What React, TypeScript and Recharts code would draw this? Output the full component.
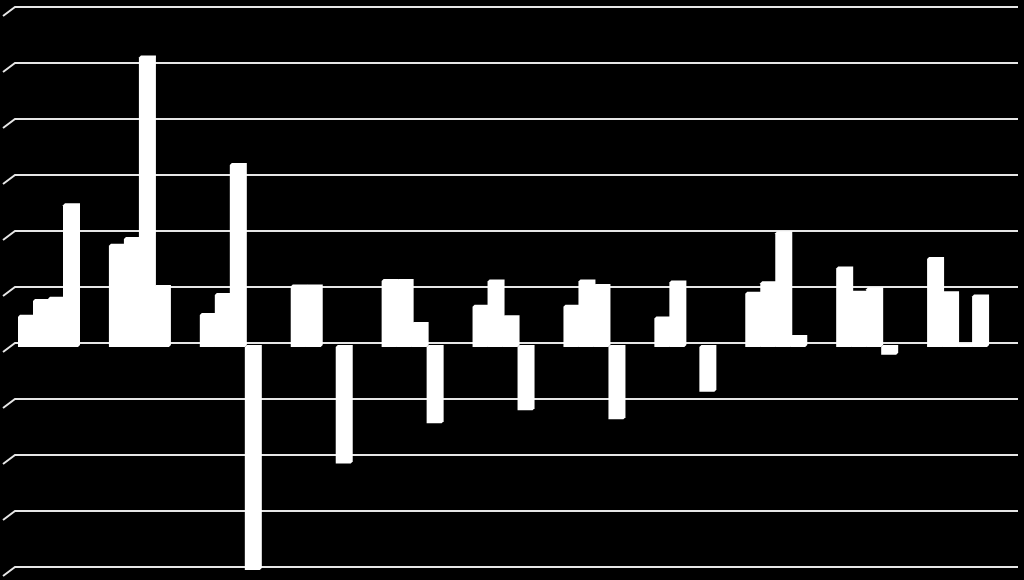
import { Bar, BarChart, CartesianGrid, XAxis, YAxis } from "recharts"

const categories = ["1", "2", "3", "4", "5", "6", "7", "8", "9", "10", "11"]
const series1 = [0.54, 1.81, 0.57, 1.08, 1.18, 0.72, 0.72, 0.51, 0.95, 1.4, 1.57]
const series2 = [0.82, 1.93, 0.93, 1.08, 1.18, 1.17, 1.17, 1.15, 1.14, 0.97, 0.96]
const series3 = [0.86, 5.17, 3.25, 0, 0.41, 0.53, 1.09, 0, 2.03, 1.03, 0.03]
const series4 = [2.53, 1.07, -3.98, -2.08, -1.36, -1.13, -1.29, -0.8, 0.18, -0.14, 0.9]
const yTicks = [-4, -3, -2, -1, 0, 1, 2, 3, 4, 5, 6]

const data = categories.map((c, i) => ({
  name: c,
  s1: series1[i],
  s2: series2[i],
  s3: series3[i],
  s4: series4[i],
}))

// small white prism, so the corners look chamfered like the 3D original
function Prism(props: any) {
  const { x, y, width, height } = props
  if (width == null || height == null) return null
  const top = Math.min(y, y + height)
  const bot = Math.max(y, y + height)
  if (bot - top < 0.5) return null
  const d = 2
  const pts = [
    [x, bot],
    [x, top],
    [x + d, top - d],
    [x + width + d, top - d],
    [x + width + d, bot - d],
    [x + width, bot],
  ]
  return <polygon points={pts.map((p) => p.join(",")).join(" ")} fill="#ffffff" />
}

// back-wall gridline with the little floor diagonal on the left
function GridLine(props: any) {
  const { x1, x2, y1, index } = props
  const yb = y1 - 4
  return (
    <path
      key={`g-${index}`}
      d={`M${x1},${yb + 9} L${x1 + 12},${yb} L${x2 + 15},${yb}`}
      stroke="#e6e6e6"
      strokeWidth={2}
      fill="none"
    />
  )
}

export default function App() {
  return (
    <div style={{ position: "fixed", left: 0, top: 0, width: 1024, height: 580, background: "#000" }}>
      <BarChart
        width={1024}
        height={580}
        data={data}
        margin={{ top: 11, right: 21, bottom: 9, left: 3 }}
        barGap={0}
        barSize={15}
      >
        <CartesianGrid vertical={false} horizontal={GridLine} />
        <XAxis dataKey="name" hide />
        <YAxis hide domain={[-4, 6]} ticks={yTicks} type="number" />
        <Bar dataKey="s1" shape={Prism} isAnimationActive={false} />
        <Bar dataKey="s2" shape={Prism} isAnimationActive={false} />
        <Bar dataKey="s3" shape={Prism} isAnimationActive={false} />
        <Bar dataKey="s4" shape={Prism} isAnimationActive={false} />
      </BarChart>
    </div>
  )
}
